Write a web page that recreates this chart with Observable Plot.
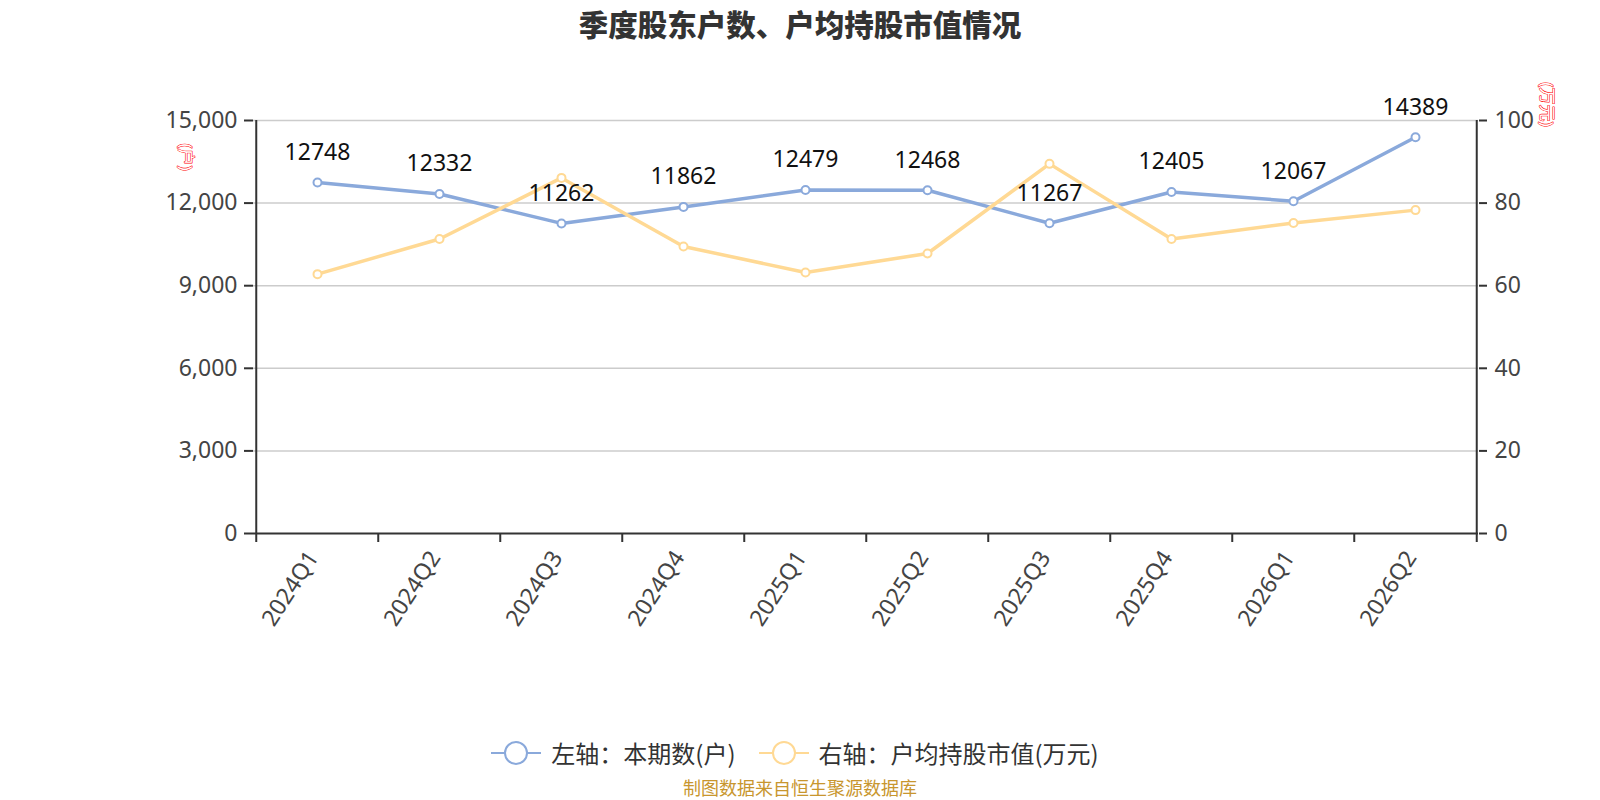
<!DOCTYPE html>
<html>
<head>
<meta charset="utf-8">
<script src="https://cdn.jsdelivr.net/npm/d3@7"></script>
<script src="https://cdn.jsdelivr.net/npm/@observablehq/plot@0.6"></script>
<style>
  html, body { margin: 0; padding: 0; background: #fff; }
  body { font-family: "Noto Sans", "Noto Sans CJK SC", sans-serif; }
  #wrap { position: relative; width: 1600px; height: 800px; overflow: hidden; }
  #title { position: absolute; left: 0; top: 0; width: 1600px; text-align: center; line-height: 46px;
           font-size: 29.5px; font-weight: 900; color: #333;
           font-family: "Noto Sans CJK SC", sans-serif; }
  #chart { position: absolute; left: 0; top: 0; }
  #legend { position: absolute; left: 0; top: 735px; width: 1600px; display: flex; justify-content: center;
            align-items: center; gap: 23px; font-size: 24px; color: #333; padding-right: 10px; box-sizing: border-box;
            font-family: "Noto Sans CJK SC", sans-serif; }
  .item { display: flex; align-items: center; gap: 10px; }
  #caption { position: absolute; left: 0; top: 777px; width: 1600px; text-align: center; font-size: 18px;
             line-height: 20px; color: #C8962E; font-family: "Noto Sans CJK SC", sans-serif; }
</style>
</head>
<body>
<div id="wrap">
  <div id="chart"></div>
  <div id="title"></div>
  <div id="legend"></div>
  <div id="caption"></div>
</div>
<script>
const quarters = ["2024Q1","2024Q2","2024Q3","2024Q4","2025Q1","2025Q2","2025Q3","2025Q4","2026Q1","2026Q2"];
const holders = [12748, 12332, 11262, 11862, 12479, 12468, 11267, 12405, 12067, 14389];
const avgValue = [62.8, 71.3, 86.1, 69.5, 63.2, 67.8, 89.5, 71.3, 75.2, 78.3];
const leftTicks = [0, 3000, 6000, 9000, 12000, 15000];
const rightTicks = [0, 20, 40, 60, 80, 100];
const leftMax = 15000, rightMax = 100;
const titleText = "季度股东户数、户均持股市值情况";
const seriesNames = ["左轴：本期数(户)", "右轴：户均持股市值(万元)"];
const axisNames = ["(户)", "(万元)"];
const captionText = "制图数据来自恒生聚源数据库";
const colors = ["#8AA9DB", "#FFD994"];

const ratio = leftMax / rightMax;
const rows = quarters.map((q, i) => ({q, holders: holders[i], avg: avgValue[i]}));

const W = 1600, H = 800, mL = 253, mR = 122, mT = 120, mB = 267;
const half = (W - mL - mR) / quarters.length / 2;
const fmt = d3.format(",");

const chart = Plot.plot({
  width: W, height: H,
  marginLeft: mL, marginRight: mR, marginTop: mT, marginBottom: mB,
  style: {fontFamily: '"Noto Sans", "Noto Sans CJK SC", sans-serif', background: "transparent"},
  x: {type: "band", domain: quarters, padding: 0, axis: null},
  y: {domain: [0, leftMax], axis: null},
  marks: [
    Plot.gridY(leftTicks.slice(1), {stroke: "#ccc", strokeOpacity: 1, strokeWidth: 1.5}),
    Plot.axisY(leftTicks, {anchor: "left", label: null, tickSize: 9, tickPadding: 7, fontSize: 23,
      tickFormat: fmt, stroke: "#333", strokeWidth: 2, fill: "#444"}),
    Plot.axisY(rightTicks.map(v => v * ratio), {anchor: "right", label: null, tickSize: 8, tickPadding: 8, fontSize: 23,
      tickFormat: d => String(Math.round(d / ratio)), stroke: "#333", strokeWidth: 2, fill: "#444"}),
    Plot.axisX({anchor: "bottom", label: null, tickSize: 9, dx: -half, tickFormat: () => "",
      stroke: "#333", strokeWidth: 2}),
    Plot.ruleY([0], {stroke: "#333", strokeWidth: 2}),
    Plot.ruleX([quarters[0]], {dx: -half, stroke: "#333", strokeWidth: 2}),
    Plot.ruleX([quarters[quarters.length - 1]], {dx: half, insetBottom: -9, stroke: "#333", strokeWidth: 2}),
    Plot.text(quarters, {x: d => d, text: d => d, frameAnchor: "bottom", dy: 24, dx: 2, rotate: -57,
      textAnchor: "end", fontSize: 23, fill: "#444"}),
    Plot.line(rows, {x: "q", y: "holders", stroke: colors[0], strokeWidth: 3.5}),
    Plot.line(rows, {x: "q", y: d => d.avg * ratio, stroke: colors[1], strokeWidth: 3.5}),
    Plot.dot(rows, {x: "q", y: "holders", r: 4, fill: "#fff", stroke: colors[0], strokeWidth: 2}),
    Plot.dot(rows, {x: "q", y: d => d.avg * ratio, r: 4, fill: "#fff", stroke: colors[1], strokeWidth: 2}),
    Plot.text(rows, {x: "q", y: "holders", text: d => String(d.holders), dy: -30, fontSize: 23, fill: "#111"}),
    Plot.text([axisNames[0]], {text: d => d, frameAnchor: "top-left", dx: -61, dy: 23, rotate: 90,
      fontSize: 17, fill: "#fff", stroke: "red", strokeWidth: 1.1}),
    Plot.text([axisNames[1]], {text: d => d, frameAnchor: "top-right", dx: 75, dy: 6, rotate: 90,
      fontSize: 17, fill: "#fff", stroke: "red", strokeWidth: 1.1})
  ]
});
document.getElementById("chart").appendChild(chart);
document.getElementById("title").textContent = titleText;
document.getElementById("caption").textContent = captionText;

const legend = document.getElementById("legend");
seriesNames.forEach((name, i) => {
  const item = document.createElement("div");
  item.className = "item";
  item.innerHTML = `<svg width="50" height="28"><line x1="0" y1="14" x2="50" y2="14" stroke="${colors[i]}" stroke-width="2"/>` +
    `<circle cx="25" cy="14" r="11" fill="#fff" stroke="${colors[i]}" stroke-width="2"/></svg>`;
  const span = document.createElement("span");
  span.textContent = name;
  item.appendChild(span);
  legend.appendChild(item);
});
</script>
</body>
</html>
